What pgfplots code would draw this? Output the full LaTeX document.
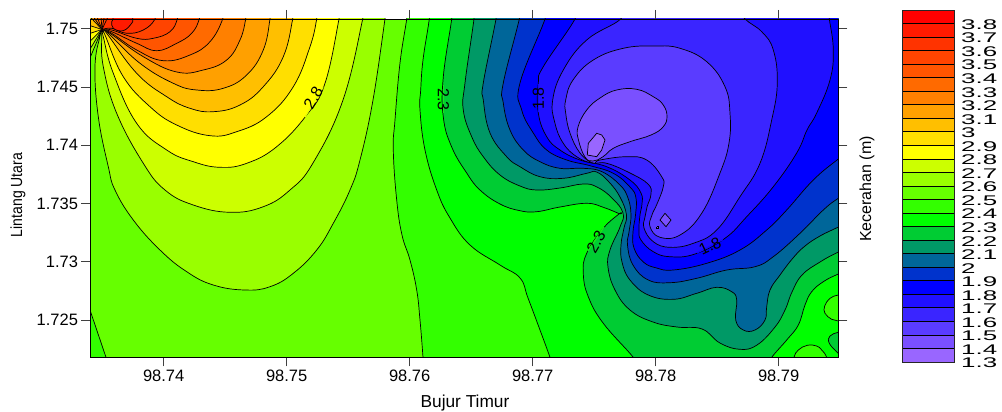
\documentclass[border=0pt]{standalone}
\usepackage{fontspec}
\usepackage{graphicx}
\usepackage{pgfplots}
\pgfplotsset{compat=1.18}
\setmainfont{Liberation Sans}
\pgfkeys{/pgfplots/table/pix/.style={header=false,row sep=\\,x expr=(\thisrowno{0}-163.7)/12.3,y expr=(28.7-\thisrowno{1})/11.66}}
\newcommand{\wide}[1]{\scalebox{1.85}[1]{\fontsize{14}{14}\selectfont #1}}
\pgfplotsset{
  cl/.style={draw=black,line width=0.7pt,smooth,tension=0.72},
  cc/.style={draw=black,line width=0.7pt,smooth cycle,tension=0.72},
  cp/.style={draw=black,line width=0.7pt,sharp plot},
}
\begin{document}
\begin{tikzpicture}
\useasboundingbox (0,0) rectangle (1002pt,412pt);
\begin{axis}[
  at={(90.5pt,54.7pt)},anchor=south west,scale only axis,width=747.9pt,height=338.3pt,
  xmin=-5.951,xmax=54.854,ymin=-28.18,ymax=0.832,
  axis on top,axis line style={black,line width=0.9pt},
  tick align=outside,major tick length=9pt,tick style={black!75,line width=0.9pt},
  xtick pos=both,ytick pos=both,
  xtick={0,10,20,30,40,50},xticklabels={98.74,98.75,98.76,98.77,98.78,98.79},
  ytick={0,-5,-10,-15,-20,-25},yticklabels={1.75,1.745,1.74,1.735,1.73,1.725},
  xticklabel pos=bottom,yticklabel pos=left,
  ticklabel style={font=\fontsize{16.5}{18}\selectfont},
  axis background/.style={fill={rgb,255:red,102;green,255;blue,0}},
]
% high side
\addplot[cl,fill={rgb,255:red,153;green,255;blue,0}] table[pix]{387 5\\385 19\\373 100\\360 160\\350 190\\333.3 223.3\\316.7 250\\293.3 273.3\\270 286.7\\245 290\\213.3 285\\186.7 271.7\\160 250\\133.3 220\\115 190\\108.3 166.7\\98.3 116.7\\95 66.7\\100 36\\102 29.5\\102 29.5\\80 78\\70 78\\70 5\\};
\addplot[cl,fill={rgb,255:red,204;green,255;blue,0}] table[pix]{364 5\\362.7 19\\343 100\\313 163\\290 190\\263.3 206.7\\230 212.3\\193.3 205\\165 190\\143.3 163.3\\116.7 113.3\\103.3 66.7\\101.7 36.7\\102 29.5\\102 29.5\\80 63\\70 63\\70 5\\};
\addplot[cl,fill={rgb,255:red,255;green,255;blue,0}] table[pix]{340.5 5\\339 19\\325 83.3\\306.7 115\\276.7 146.7\\246.7 163.3\\220 167.3\\193.3 161.7\\166.7 150\\136.7 123.3\\113.3 73.3\\103.3 36.7\\102 29.5\\102 29.5\\80 49.6\\70 49.6\\70 5\\};
\addplot[cl,fill={rgb,255:red,255;green,223;blue,0}] table[pix]{318 5\\316.7 19\\310 46.7\\293.3 86.7\\266.7 116.7\\236.7 131.7\\210 135.7\\176.7 125\\150 106.7\\123.3 76.7\\105 35\\102 29.5\\102 29.5\\80 36.2\\70 36.2\\70 5\\};
\addplot[cl,fill={rgb,255:red,255;green,191;blue,0}] table[pix]{294 5\\292.7 19\\283.3 56.7\\263.3 86.7\\240 105\\213.3 111.7\\190 108.3\\166.7 96.7\\136.7 73.3\\106.7 33.3\\102 29.5\\102 29.5\\80 22.8\\70 22.8\\70 5\\};
\addplot[cl,fill={rgb,255:red,255;green,160;blue,0}] table[pix]{271 5\\270 19\\263.3 50\\246.7 75\\223.3 88.3\\196.7 90\\173.3 83.3\\140 63.3\\108.3 33.3\\102 29.5\\102 29.5\\80 6.4\\75 2\\};
\addplot[cl,fill={rgb,255:red,255;green,128;blue,0}] table[pix]{247 5\\245.7 19\\240 40\\226.7 60\\203.3 70\\176.7 72\\143.3 56.7\\110 33.3\\102 29.5\\102 29.5\\85 4\\};
\addplot[cl,fill={rgb,255:red,255;green,106;blue,0}] table[pix]{224 5\\222.7 19\\210 41.7\\190 55\\163.3 60.7\\136.7 50\\111.7 33.3\\102 29.5\\102 29.5\\92 4\\};
\addplot[cl,fill={rgb,255:red,255;green,85;blue,0}] table[pix]{201 5\\199.3 19\\191.7 33.3\\176.7 43.3\\156.7 50.7\\136.7 43.3\\111.7 31.7\\102 29.5\\102 29.5\\100 4\\};
\addplot[cl,fill={rgb,255:red,255;green,68;blue,0}] table[pix]{179 5\\177.3 19\\170 31.7\\153.3 38.3\\136.7 38.3\\111.7 30\\102 29.5\\102 29.5\\106.5 4\\};
\addplot[cl,fill={rgb,255:red,255;green,51;blue,0}] table[pix]{157 5\\155 19\\143.3 30\\126.7 33.3\\111.7 28.3\\102 29.5\\102 29.5\\114 4\\};
\addplot[cl,fill={rgb,255:red,255;green,26;blue,0}] table[pix]{133 5\\132.7 19\\131.7 23.3\\123.3 30.7\\113.3 28.3\\111.7 21.7\\113 19\\113 5\\};
% low side
\addplot[cp,fill={rgb,255:red,51;green,255;blue,0}] table[pix]{90 310\\106 357.3\\111 375\\80 375\\80 310\\};
\addplot[cl,fill={rgb,255:red,51;green,255;blue,0}] table[pix]{407.7 5\\406.7 19\\400 63\\395 120\\393.3 150\\396.7 200\\402 235\\410 260\\416.7 290\\420 320\\423 357.3\\424 375\\900 375\\900 -20\\};
\addplot[cl,fill={rgb,255:red,0;green,255;blue,0}] table[pix]{430 5\\429.3 19\\423 60\\420.7 90\\420 110\\425 150\\436.7 190\\450 218\\470 245\\500 265\\520 278\\528 298\\540 330\\550 357.3\\556 375\\900 375\\900 -20\\};
\addplot[cl,fill={rgb,255:red,51;green,255;blue,0}] table[pix]{790 372\\794 357.3\\798.3 350\\807.3 345.3\\816.7 346\\821.7 350\\826.7 357.3\\831 372\\};
\addplot[cl,fill={rgb,255:red,51;green,255;blue,0}] table[pix]{850 293\\838.3 295\\830 298.3\\824.7 306\\825 313.3\\831.7 319.3\\838.3 321\\850 323\\};
\addplot[cl,fill={rgb,255:red,0;green,204;blue,51}] table[pix]{452.5 5\\451.7 19\\443.3 77\\443.3 117\\451.7 147\\466.7 173\\480 190\\500 204\\520 210.7\\536.7 211.7\\560 207\\586.7 203.3\\603.3 207.3\\619.3 213.7\\619.3 213.7\\603.3 228.3\\586.7 253.3\\583.3 273.3\\588.3 296.7\\603.3 323.3\\633.3 357.3\\645 375\\760 375\\771.7 357.3\\786.7 340\\798.3 325\\805 305\\811.7 291.7\\823.3 281.7\\838.3 274\\860 265\\900 250\\900 -20\\};
\addplot[cl,fill={rgb,255:red,0;green,204;blue,51}] table[pix]{850 330\\838.3 332.3\\830 336\\829.3 343.3\\838.3 353.3\\850 365\\};
\addplot[cl,fill={rgb,255:red,0;green,153;blue,102}] table[pix]{475 5\\474 19\\465 83\\463.3 110\\471.7 136.7\\483.3 156.7\\500 175\\520 186\\537 190\\560 188\\583 184\\597 187\\612 198\\623 213\\620 227\\610 250\\608 267\\615 290\\630 310\\653 322\\677 327\\702 329\\720 343\\740 349.3\\757 345\\775 327\\785 310\\792 292\\802 275\\820 262\\838.3 252\\860 242\\900 230\\900 -20\\};
\addplot[cl,fill={rgb,255:red,0;green,102;blue,153}] table[pix]{497 5\\496 19\\483.3 83\\483.3 100\\490 133\\506.7 156.7\\520 166.7\\540 176.7\\563.3 178.3\\586.7 173.3\\596.7 172\\609 182\\620 197\\626.5 215\\624 228\\621 245\\622 262\\630 280\\648.3 295\\673.3 299.3\\696.7 293.3\\716.7 287.3\\731.7 291.7\\736.7 300\\735.7 320\\743.3 330\\755 330\\765 320\\766.7 306.7\\770 290\\780 275\\793 258\\805 246\\820 236\\838.3 227\\860 216\\900 200\\900 -20\\};
\addplot[cl,fill={rgb,255:red,0;green,51;blue,204}] table[pix]{520.5 5\\519.3 19\\503.3 83\\503.3 103\\510 130\\523.3 150\\540 161.7\\560 168.3\\583.3 168.3\\602 171.7\\620 185\\628 198\\631 215\\629 232\\627.5 245\\633 265\\648.3 280\\670 282.7\\696.7 278.3\\726.7 270\\755 266.7\\773.3 256.7\\800 233.3\\823.3 210\\838.3 198.3\\860 185\\900 170\\900 -20\\};
\addplot[cl,fill={rgb,255:red,0;green,0;blue,255}] table[pix]{546.5 5\\545 19\\520 83\\521.7 110\\533.3 133\\546.7 150\\566.7 160\\590 165.7\\613.3 173.3\\630 187\\636 198\\635.5 215\\633 232\\634 248\\643.3 262\\656.7 268\\673.3 270\\706.7 263.3\\740 250\\766.7 230\\786.7 210\\813.3 180\\838.3 159\\860 143\\900 130\\900 -20\\};
\addplot[cl,fill={rgb,255:red,32;green,16;blue,255}] table[pix]{576.7 5\\575 19\\543.3 66.7\\538.3 83\\538.3 113\\546.7 136.7\\560 150\\580 160\\606.7 166.7\\630 180\\641 193\\642 204\\640 215\\639 230\\641 240\\653.3 251.7\\670 256.7\\695 254\\725 238.3\\746.7 216.7\\773.3 186.7\\796.7 153\\807 130\\816.7 113\\830 80\\833.3 50\\829.3 19\\827 5\\};
\addplot[cl,fill={rgb,255:red,58;green,37;blue,255}] table[pix]{623 5\\620.7 19\\586.7 40\\563.3 70\\552.7 100\\555 123.3\\563.3 143.3\\576.7 156.7\\592 163\\606.7 163.3\\630 173\\648 184\\651 194\\647 207\\645 217\\644 228\\653.3 241.7\\670 247.3\\693.3 243.3\\716.7 230\\740 196.7\\760 163.3\\771.7 120\\777.3 83\\773.3 50\\762 32\\745 19\\735 5\\};
\addplot[cc,fill={rgb,255:red,90;green,60;blue,255}] table[pix]{655 46\\680 48.3\\706.7 61.7\\725 86.7\\730 113.3\\729 143\\720 173\\701.7 213.3\\680 235\\660 237.3\\650 226.7\\652 215\\657 204\\663.3 186.7\\661.7 176.7\\646.7 160\\626.7 156.7\\600 160\\593 163\\580 153\\570 133\\565.7 113\\565.7 100\\573 80\\593.3 60\\623.3 48.3\\};
\addplot[cc,fill={rgb,255:red,122;green,80;blue,255}] table[pix]{600 98\\616.7 90\\636.7 89.3\\653.3 96.7\\663.3 105\\667 116.7\\663 127\\651 135\\630 141.7\\613.3 148.3\\603 156.7\\593 161\\585 157\\578.5 140\\578 127\\586.7 110\\};
\addplot[cp,fill={rgb,255:red,122;green,80;blue,255}] table[pix]{660 220\\665 213.3\\671 220\\666 226.7\\660 220\\};
\addplot[cp,fill={rgb,255:red,122;green,80;blue,255}] table[pix]{656.5 226.5\\658 226.5\\658 228\\656.5 228\\656.5 226.5\\};
\addplot[cp,fill={rgb,255:red,153;green,102;blue,255}] table[pix]{587.3 155\\588.3 143.3\\596.7 133.3\\601.7 135\\605 140\\601.7 150\\596.7 156.7\\587.3 155\\};
% gaps under the contour labels
\addplot[draw={rgb,255:red,230;green,255;blue,0},line width=1.3pt] table[pix]{323 87\\305 117\\};
\addplot[draw={rgb,255:red,26;green,230;blue,26},line width=1.3pt] table[pix]{443.3 85\\443.3 113\\};
\addplot[draw={rgb,255:red,16;green,8;blue,255},line width=1.3pt] table[pix]{538.3 84\\538.3 112\\};
\addplot[draw={rgb,255:red,26;green,230;blue,26},line width=1.3pt] table[pix]{604 227\\588 251\\};
\addplot[draw={rgb,255:red,16;green,8;blue,255},line width=1.3pt] table[pix]{723 239.5\\697 253\\};
\node[rotate=60,font=\fontsize{16}{16}\selectfont] at (axis cs:12.16,-5.94) {2.8};
\node[rotate=-90,font=\fontsize{16}{16}\selectfont] at (axis cs:22.73,-6.05) {2.3};
\node[rotate=90,font=\fontsize{16}{16}\selectfont] at (axis cs:30.46,-5.97) {1.8};
\node[rotate=60,font=\fontsize{16}{16}\selectfont] at (axis cs:35.15,-18.27) {2.3};
\node[rotate=25,font=\fontsize{16}{16}\selectfont] at (axis cs:44.41,-18.64) {1.8};
\end{axis}
\begin{axis}[
  at={(902pt,50pt)},anchor=south west,scale only axis,width=52pt,height=352pt,
  xmin=0,xmax=1,ymin=1.3,ymax=3.9,
  axis on top,axis line style={black!85,line width=0.9pt},
  xtick=\empty,ytick pos=right,
  ytick={1.3,1.4,1.5,1.6,1.7,1.8,1.9,2,2.1,2.2,2.3,2.4,2.5,2.6,2.7,2.8,2.9,3,3.1,3.2,3.3,3.4,3.5,3.6,3.7,3.8},
  yticklabels={\wide{1.3},\wide{1.4},\wide{1.5},\wide{1.6},\wide{1.7},\wide{1.8},\wide{1.9},\wide{2},\wide{2.1},\wide{2.2},\wide{2.3},\wide{2.4},\wide{2.5},\wide{2.6},\wide{2.7},\wide{2.8},\wide{2.9},\wide{3},\wide{3.1},\wide{3.2},\wide{3.3},\wide{3.4},\wide{3.5},\wide{3.6},\wide{3.7},\wide{3.8}},
  major tick length=0pt,
  yticklabel style={anchor=west,xshift=5pt,yshift=-1pt,inner sep=2pt},
  every axis plot/.append style={draw=black,line width=0.7pt},
]
\addplot[fill={rgb,255:red,153;green,102;blue,255}] coordinates{(0,1.3)(1,1.3)(1,1.4)(0,1.4)} -- cycle;
\addplot[fill={rgb,255:red,122;green,80;blue,255}] coordinates{(0,1.4)(1,1.4)(1,1.5)(0,1.5)} -- cycle;
\addplot[fill={rgb,255:red,90;green,60;blue,255}] coordinates{(0,1.5)(1,1.5)(1,1.6)(0,1.6)} -- cycle;
\addplot[fill={rgb,255:red,58;green,37;blue,255}] coordinates{(0,1.6)(1,1.6)(1,1.7)(0,1.7)} -- cycle;
\addplot[fill={rgb,255:red,32;green,16;blue,255}] coordinates{(0,1.7)(1,1.7)(1,1.8)(0,1.8)} -- cycle;
\addplot[fill={rgb,255:red,0;green,0;blue,255}] coordinates{(0,1.8)(1,1.8)(1,1.9)(0,1.9)} -- cycle;
\addplot[fill={rgb,255:red,0;green,51;blue,204}] coordinates{(0,1.9)(1,1.9)(1,2.0)(0,2.0)} -- cycle;
\addplot[fill={rgb,255:red,0;green,102;blue,153}] coordinates{(0,2.0)(1,2.0)(1,2.1)(0,2.1)} -- cycle;
\addplot[fill={rgb,255:red,0;green,153;blue,102}] coordinates{(0,2.1)(1,2.1)(1,2.2)(0,2.2)} -- cycle;
\addplot[fill={rgb,255:red,0;green,204;blue,51}] coordinates{(0,2.2)(1,2.2)(1,2.3)(0,2.3)} -- cycle;
\addplot[fill={rgb,255:red,0;green,255;blue,0}] coordinates{(0,2.3)(1,2.3)(1,2.4)(0,2.4)} -- cycle;
\addplot[fill={rgb,255:red,51;green,255;blue,0}] coordinates{(0,2.4)(1,2.4)(1,2.5)(0,2.5)} -- cycle;
\addplot[fill={rgb,255:red,102;green,255;blue,0}] coordinates{(0,2.5)(1,2.5)(1,2.6)(0,2.6)} -- cycle;
\addplot[fill={rgb,255:red,153;green,255;blue,0}] coordinates{(0,2.6)(1,2.6)(1,2.7)(0,2.7)} -- cycle;
\addplot[fill={rgb,255:red,204;green,255;blue,0}] coordinates{(0,2.7)(1,2.7)(1,2.8)(0,2.8)} -- cycle;
\addplot[fill={rgb,255:red,255;green,255;blue,0}] coordinates{(0,2.8)(1,2.8)(1,2.9)(0,2.9)} -- cycle;
\addplot[fill={rgb,255:red,255;green,223;blue,0}] coordinates{(0,2.9)(1,2.9)(1,3.0)(0,3.0)} -- cycle;
\addplot[fill={rgb,255:red,255;green,191;blue,0}] coordinates{(0,3.0)(1,3.0)(1,3.1)(0,3.1)} -- cycle;
\addplot[fill={rgb,255:red,255;green,160;blue,0}] coordinates{(0,3.1)(1,3.1)(1,3.2)(0,3.2)} -- cycle;
\addplot[fill={rgb,255:red,255;green,128;blue,0}] coordinates{(0,3.2)(1,3.2)(1,3.3)(0,3.3)} -- cycle;
\addplot[fill={rgb,255:red,255;green,106;blue,0}] coordinates{(0,3.3)(1,3.3)(1,3.4)(0,3.4)} -- cycle;
\addplot[fill={rgb,255:red,255;green,85;blue,0}] coordinates{(0,3.4)(1,3.4)(1,3.5)(0,3.5)} -- cycle;
\addplot[fill={rgb,255:red,255;green,68;blue,0}] coordinates{(0,3.5)(1,3.5)(1,3.6)(0,3.6)} -- cycle;
\addplot[fill={rgb,255:red,255;green,51;blue,0}] coordinates{(0,3.6)(1,3.6)(1,3.7)(0,3.7)} -- cycle;
\addplot[fill={rgb,255:red,255;green,26;blue,0}] coordinates{(0,3.7)(1,3.7)(1,3.8)(0,3.8)} -- cycle;
\addplot[fill={rgb,255:red,255;green,0;blue,0}] coordinates{(0,3.8)(1,3.8)(1,3.9)(0,3.9)} -- cycle;
\end{axis}
\node[font=\fontsize{17.3}{17}\selectfont] at (465pt,9pt) {Bujur Timur};
\node[rotate=90,font=\fontsize{14}{14}\selectfont] at (18pt,217pt) {\scalebox{1}[1.15]{Lintang Utara}};
\node[rotate=90,font=\fontsize{16}{16}\selectfont] at (867pt,223pt) {Kecerahan (m)};
\end{tikzpicture}
\end{document}
